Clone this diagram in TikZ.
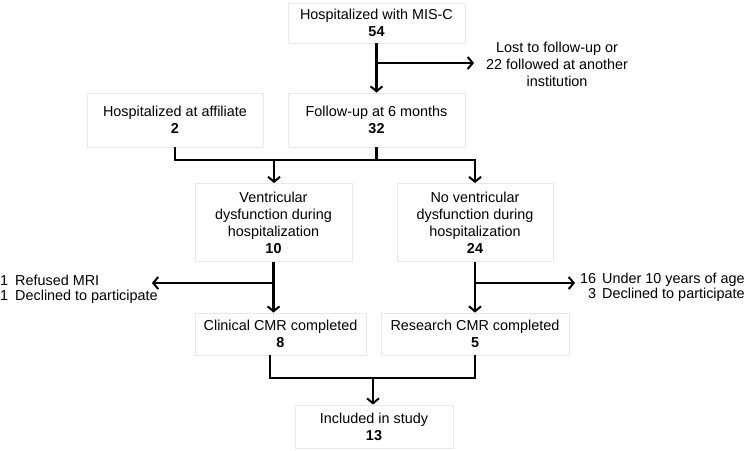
\documentclass[tikz,border=0pt]{standalone}
\usepackage{fontspec}
\setmainfont{Liberation Sans}[Ligatures=NoCommon]
\usetikzlibrary{arrows.meta,calc}
\begin{document}
\begin{tikzpicture}[x=1pt,y=-1pt,
  every node/.style={font=\fontsize{14.4}{17}\selectfont, text=black},
  box/.style={draw=black!9, line width=0.8pt, fill=white, align=center, inner sep=0pt},
  lbl/.style={align=center, inner sep=0pt},
  conn/.style={line width=2.6pt, line join=miter},
  arr/.style={conn, -{Straight Barb[length=5pt,width=12pt,line width=2pt]}}
]
\useasboundingbox (0,0) rectangle (749,450);
% boxes
\node[box, minimum width=177pt, minimum height=40pt] (top) at (376.5,23) {Hospitalized with MIS-C\\\textbf{54}};
\node[box, minimum width=177pt, minimum height=54pt] (fu) at (376.5,120) {Follow-up at 6 months\\\textbf{32}};
\node[box, minimum width=176pt, minimum height=54pt] (aff) at (175,120) {Hospitalized at affiliate\\\textbf{2}};
\node[box, minimum width=157pt, minimum height=78pt] (vd) at (273.5,222.5) {Ventricular\\dysfunction during\\hospitalization\\\textbf{10}};
\node[box, minimum width=156pt, minimum height=78pt] (nvd) at (475,222.5) {No ventricular\\dysfunction during\\hospitalization\\\textbf{24}};
\node[box, minimum width=171pt, minimum height=42pt] (ccmr) at (280.5,334) {Clinical CMR completed\\\textbf{8}};
\node[box, minimum width=188pt, minimum height=42pt] (rcmr) at (475,334) {Research CMR completed\\\textbf{5}};
\node[box, minimum width=158pt, minimum height=43pt] (inc) at (374,426.5) {Included in study\\\textbf{13}};
% side labels
\node[lbl, anchor=west] (lost) at (486,64) {Lost to follow-up or\\22 followed at another\\institution};
\node[lbl, anchor=west] (excl1) at (0,290) {\begin{tabular}{@{}l@{\hspace{7pt}}l@{}}1&Refused MRI\\[-2pt]1&Declined to participate\end{tabular}};
\node[lbl, anchor=west] (excl2) at (580,288) {\begin{tabular}{@{}r@{\hspace{6pt}}l@{}}16&Under 10 years of age\\[-2pt]3&Declined to participate\end{tabular}};
% junction coordinates
\coordinate (j1) at (376.5,63);
\coordinate (m1) at (274,160);
\coordinate (m2) at (376.5,160);
\coordinate (j2) at (273.5,283);
\coordinate (j3) at (475,283);
\coordinate (m3) at (373,378);
% connectors
\draw[arr] (top.south) -- (fu.north);
\draw[arr] (j1) -- ($(lost.west |- j1)+(-12,0)$);
\draw[conn] (aff.south) |- (m2);
\draw[conn] (fu.south) -- (m2);
\draw[arr] (m2) -| (nvd.north);
\draw[arr] (m1) -- (vd.north -| m1);
\draw[arr] (vd.south) -- (vd.south |- ccmr.north);
\draw[arr] (j2) -- ($(excl1.east |- j2)+(-6,0)$);
\draw[arr] (nvd.south) -- (rcmr.north);
\draw[arr] (j3) -- ($(excl2.west |- j3)+(-5,0)$);
\draw[conn] (ccmr.south -| 270,0) |- (m3);
\draw[conn] (rcmr.south) |- (m3);
\draw[arr] (m3) -- (inc.north -| m3);
\end{tikzpicture}
\end{document}
